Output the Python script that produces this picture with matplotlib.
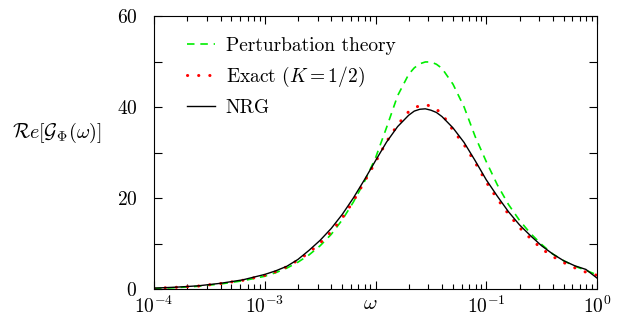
"""
Real part of the Green function G_Phi(omega): perturbation theory,
the exact K = 1/2 result and NRG, on a log frequency axis.
"""

import numpy as np
import matplotlib
matplotlib.use("Agg")
import matplotlib.pyplot as plt
from matplotlib.ticker import MultipleLocator, LogLocator, NullFormatter, FuncFormatter


log_omega = np.array([
    -4.0, -3.8, -3.6, -3.4, -3.2, -3.0, -2.9, -2.8, -2.7, -2.6, -2.5,
    -2.4, -2.3, -2.2, -2.1, -2.0, -1.9, -1.8, -1.7, -1.65, -1.6, -1.55,
    -1.5, -1.45, -1.4, -1.3, -1.2, -1.1, -1.0, -0.9, -0.8, -0.7, -0.6,
    -0.5, -0.4, -0.3, -0.2, -0.1, 0.0,
])

perturbation = np.array([
    0.1, 0.3, 0.6, 1.1, 1.8, 2.8, 3.6, 4.6, 5.9, 7.5, 9.5,
    12.0, 15.2, 19.1, 23.6, 28.8, 35.5, 42.5, 47.2, 48.6, 49.5, 49.9,
    49.9, 49.4, 48.5, 45.0, 40.0, 33.5, 28.0, 22.9, 18.6, 15.1, 12.2,
    9.8, 7.7, 6.2, 5.0, 4.1, 3.1,
])

exact = np.array([
    0.15, 0.37, 0.65, 1.2, 1.9, 3.0, 3.8, 4.9, 6.3, 8.0, 10.1,
    12.6, 15.6, 19.3, 23.6, 27.9, 32.4, 36.1, 39.0, 39.8, 40.3, 40.5,
    40.2, 39.5, 38.5, 34.9, 31.7, 27.8, 23.5, 19.8, 16.5, 13.5, 11.1,
    8.85, 7.15, 5.8, 4.65, 3.7, 3.0,
])

nrg = np.array([
    0.2, 0.4, 0.7, 1.25, 2.0, 3.2, 4.0, 5.0, 6.5, 8.5, 10.7,
    13.3, 16.4, 20.0, 24.0, 28.2, 32.3, 35.7, 38.2, 39.1, 39.5, 39.6,
    39.3, 38.8, 37.9, 35.4, 32.2, 28.2, 24.0, 20.4, 17.0, 14.1, 11.7,
    9.5, 7.7, 6.2, 5.1, 4.3, 2.4,
])

# the 10^-2 label is left out in the original, the omega label sits there
x_tick_labels = {-4: r"$10^{-4}$", -3: r"$10^{-3}$", -2: "",
                 -1: r"$10^{-1}$", 0: r"$10^{0}$"}

omega = 10.0 ** log_omega

plt.rcParams["font.family"] = "serif"
plt.rcParams["font.serif"] = ["cmr10", "DejaVu Serif"]
plt.rcParams["mathtext.fontset"] = "cm"
plt.rcParams["axes.formatter.use_mathtext"] = True

fig = plt.figure(figsize=(6.18, 3.16), dpi=100)
ax = fig.add_axes([154 / 618, 27 / 316, 443 / 618, 273 / 316])

ax.plot(omega, perturbation, color="#00ee00", lw=1.2, dashes=(4.5, 3.5),
        label="Perturbation theory")
ax.plot(omega, exact, color="red", lw=2.2, dashes=(0.05, 3.6),
        dash_capstyle="round", label=r"Exact ($K=1/2$)")
ax.plot(omega, nrg, color="black", lw=1.0, label="NRG")

ax.set_xscale("log")
ax.set_xlim(1e-4, 1)
ax.set_ylim(0, 60)
ax.yaxis.set_major_locator(MultipleLocator(20))
ax.yaxis.set_minor_locator(MultipleLocator(10))
ax.xaxis.set_major_locator(LogLocator(base=10, numticks=10))
ax.xaxis.set_minor_locator(LogLocator(base=10, subs=np.arange(2, 10), numticks=10))
ax.xaxis.set_major_formatter(
    FuncFormatter(lambda v, pos: x_tick_labels.get(int(round(np.log10(v))), "")))
ax.xaxis.set_minor_formatter(NullFormatter())

ax.tick_params(which="both", direction="in", top=True, right=True, labelsize=14)
ax.tick_params(which="major", length=6, width=0.8)
ax.tick_params(axis="x", which="major", pad=5)
ax.tick_params(axis="y", which="major", pad=12)
ax.tick_params(axis="x", which="minor", length=3.5, width=0.8)
ax.tick_params(axis="y", which="minor", length=6, width=0.8)

ax.set_xlabel(r"$\omega$", fontsize=15, va="center")
ax.xaxis.set_label_coords(216 / 443, -0.055)
ax.set_ylabel(r"$\mathcal{R}e[\mathcal{G}_\Phi(\omega)]$", fontsize=14.5,
              rotation=0, ha="center", va="center")
ax.yaxis.set_label_coords(-0.22, 0.57)

ax.legend(loc="upper left", frameon=False, fontsize=14, handlelength=1.45,
          handletextpad=0.55, labelspacing=0.5, borderaxespad=0.3,
          bbox_to_anchor=(0.043, 0.972))

fig.savefig("out.png", dpi=100)
